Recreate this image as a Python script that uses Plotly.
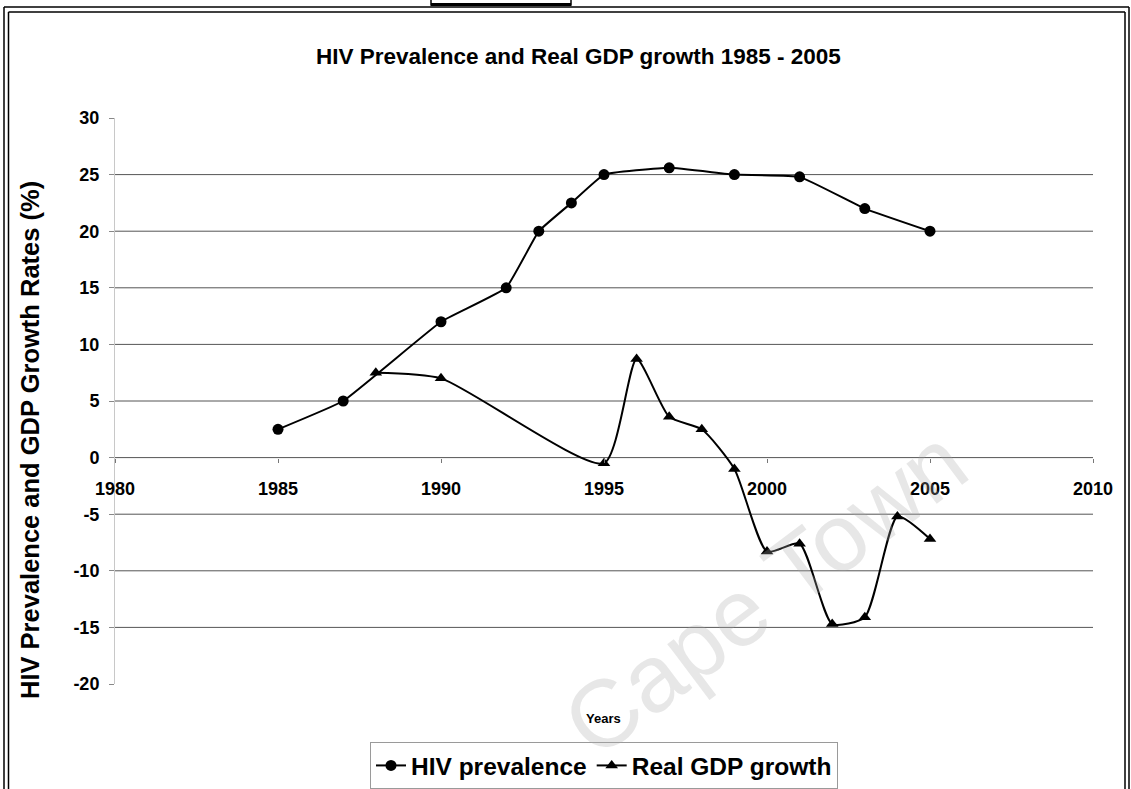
import plotly.graph_objects as go

# HIV prevalence (%) by survey year
hiv_years = [1985, 1987, 1990, 1992, 1993, 1994, 1995, 1997, 1999, 2001, 2003, 2005]
hiv_prevalence = [2.5, 5.0, 12.0, 15.0, 20.0, 22.5, 25.0, 25.6, 25.0, 24.8, 22.0, 20.0]

# Real GDP growth (%) by year
gdp_years = [1988, 1990, 1995, 1996, 1997, 1998, 1999, 2000, 2001, 2002, 2003, 2004, 2005]
gdp_growth = [7.5, 7.0, -0.5, 8.7, 3.6, 2.5, -1.0, -8.3, -7.6, -14.7, -14.1, -5.2, -7.2]

x_ticks = [1980, 1985, 1990, 1995, 2000, 2005, 2010]
y_ticks = [-20, -15, -10, -5, 0, 5, 10, 15, 20, 25, 30]
grid_values = [-15, -10, -5, 0, 5, 10, 15, 20, 25]

X_RANGE = [1980, 2010]
Y_RANGE = [-20, 30]

WIDTH, HEIGHT = 1131, 789
ML, MR, MT, MB = 115, 38, 118, 105
PW = WIDTH - ML - MR
PH = HEIGHT - MT - MB

FONT = "Liberation Sans, Arial, sans-serif"


def fx(px):
    """Page pixel x -> paper coordinate."""
    return (px - ML) / PW


def fy(py):
    """Page pixel y -> paper coordinate."""
    return (HEIGHT - MB - py) / PH


fig = go.Figure()

fig.add_trace(go.Scatter(
    x=hiv_years, y=hiv_prevalence, name="HIV prevalence",
    mode="lines+markers",
    line=dict(color="black", width=2, shape="spline", smoothing=0.3),
    marker=dict(symbol="circle", size=11, color="black"),
))

fig.add_trace(go.Scatter(
    x=gdp_years, y=gdp_growth, name="Real GDP growth",
    mode="lines+markers",
    line=dict(color="black", width=2, shape="spline", smoothing=0.6),
    marker=dict(symbol="triangle-up", size=11, color="black"),
))

shapes = []
# horizontal gridlines
for g in grid_values:
    shapes.append(dict(type="line", xref="x", yref="y", x0=X_RANGE[0], x1=X_RANGE[1],
                       y0=g, y1=g, line=dict(color="#555555", width=1), layer="below"))

# double frame around the chart
frame = dict(color="black", width=1.5)
shapes += [
    dict(type="line", xref="paper", yref="paper", x0=fx(4), x1=fx(1129), y0=fy(7), y1=fy(7), line=frame),
    dict(type="line", xref="paper", yref="paper", x0=fx(8.5), x1=fx(1125), y0=fy(12), y1=fy(12), line=frame),
    dict(type="line", xref="paper", yref="paper", x0=fx(4), x1=fx(4), y0=fy(7), y1=fy(789), line=frame),
    dict(type="line", xref="paper", yref="paper", x0=fx(8.5), x1=fx(8.5), y0=fy(12), y1=fy(789), line=frame),
    dict(type="line", xref="paper", yref="paper", x0=fx(1129), x1=fx(1129), y0=fy(7), y1=fy(789), line=frame),
    dict(type="line", xref="paper", yref="paper", x0=fx(1125), x1=fx(1125), y0=fy(12), y1=fy(789), line=frame),
    dict(type="rect", xref="paper", yref="paper", x0=fx(431), x1=fx(571), y0=fy(5), y1=fy(-2),
         line=dict(color="black", width=1.5), fillcolor="white"),
    dict(type="line", xref="paper", yref="paper", x0=fx(431), x1=fx(571), y0=fy(4.5), y1=fy(4.5),
         line=dict(color="black", width=3)),
]

annotations = [
    dict(text="<b>HIV Prevalence and Real GDP growth 1985 - 2005</b>", xref="paper", yref="paper",
         x=fx(578), y=fy(57), showarrow=False, font=dict(size=22.5, color="black", family=FONT),
         xanchor="center", yanchor="middle"),
    dict(text="<b>HIV Prevalence and GDP Growth Rates (%)</b>", xref="paper", yref="paper",
         x=fx(30), y=fy(440), showarrow=False, textangle=-90,
         font=dict(size=25.5, color="black", family=FONT), xanchor="center", yanchor="middle"),
    dict(text="<b>Years</b>", xref="paper", yref="paper", x=fx(603), y=fy(718), showarrow=False,
         font=dict(size=13, color="black", family=FONT), xanchor="center", yanchor="middle"),
    dict(text="Cape Town", xref="paper", yref="paper", x=fx(765), y=fy(592), showarrow=False,
         textangle=-37, font=dict(size=95, color="rgba(170,170,170,0.28)", family=FONT),
         xanchor="center", yanchor="middle"),
]

fig.update_layout(
    width=WIDTH, height=HEIGHT,
    margin=dict(l=ML, r=MR, t=MT, b=MB, autoexpand=False),
    paper_bgcolor="white", plot_bgcolor="white",
    font=dict(family=FONT, color="black"),
    showlegend=True,
    legend=dict(orientation="h", x=fx(604), xanchor="center", y=fy(742), yanchor="top",
                font=dict(size=24.5, family=FONT, color="black", weight="bold"),
                bordercolor="#9a9a9a", borderwidth=1, bgcolor="rgba(0,0,0,0)",
                itemwidth=30, tracegroupgap=0),
    xaxis=dict(range=X_RANGE, tickvals=x_ticks, ticktext=[str(v) for v in x_ticks],
               anchor="free",
               position=(0 - Y_RANGE[0]) / (Y_RANGE[1] - Y_RANGE[0]),
               showgrid=False, zeroline=False, showline=False,
               ticks="outside", ticklen=4, tickcolor="#777777",
               ticklabelstandoff=11,
               tickfont=dict(size=18, family=FONT, color="black", weight="bold")),
    yaxis=dict(range=Y_RANGE, tickvals=y_ticks, ticktext=[str(v) for v in y_ticks],
               showgrid=False, zeroline=False,
               showline=True, linecolor="#c8c8c8", linewidth=1,
               ticks="outside", ticklen=5, tickcolor="#888888",
               ticklabelstandoff=6,
               tickfont=dict(size=18, family=FONT, color="black", weight="bold")),
    shapes=shapes,
    annotations=annotations,
)

fig.write_html("out.html")
